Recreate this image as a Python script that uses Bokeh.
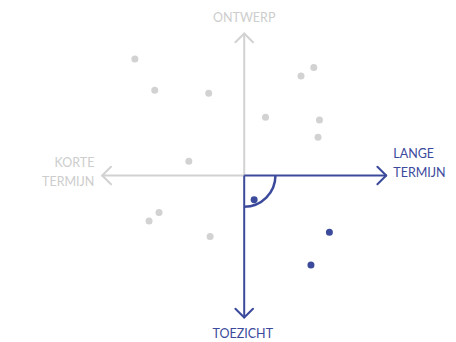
import math
from bokeh.plotting import figure
from bokeh.models import Range1d
from bokeh.embed import file_html
from bokeh.resources import INLINE
from bokeh.core.properties import value

# ---- data (axis units, origin at the centre of the cross) ----
gray_x = [-7.7, -6.3, -2.5, 4.0, 4.9, 1.5, 5.3, 5.2, -3.9, -6.0, -6.7, -2.4]
gray_y = [8.2, 6.0, 5.8, 7.0, 7.6, 4.1, 3.9, 2.7, 1.0, -2.6, -3.2, -4.3]
blue_x = [0.7, 6.0, 4.7]
blue_y = [-1.7, -4.0, -6.3]

axis_extent = 10.0
label_top = "ONTWERP"
label_bottom = "TOEZICHT"
label_left = "KORTE\nTERMIJN"
label_right = "LANGE\nTERMIJN"

# ---- layout ----
W, H = 456, 342
PX = 14.2              # pixels per unit
CX, CY = 243.7, 175.0  # centre, in frame pixels (from left / from top)

GRAY = "#d2d2d2"
GRAY_TXT = "#cdcdcd"
BLUE = "#3c4a9c"
FONT = value("Lato")
FS = "12.5px"

p = figure(width=W, height=H, output_backend="svg", toolbar_location=None,
           x_axis_type=None, y_axis_type=None, min_border=0,
           x_range=Range1d(-CX / PX, (W - CX) / PX),
           y_range=Range1d(-(H - CY) / PX, CY / PX))
p.outline_line_color = None
p.grid.visible = False
p.background_fill_color = "white"
p.border_fill_color = "white"

E = axis_extent
h = 0.62  # arrow head size (units)

# gray: up and left
p.segment(x0=[0, 0], y0=[0, 0], x1=[0, -E], y1=[E, 0], line_color=GRAY, line_width=2)
p.segment(x0=[0, 0, -E, -E], y0=[E, E, 0, 0],
          x1=[-h, h, -E + h, -E + h], y1=[E - h, E - h, h, -h],
          line_color=GRAY, line_width=2, line_cap="round")
# blue: right and down
p.segment(x0=[0, 0], y0=[0, 0], x1=[E, 0], y1=[0, -E], line_color=BLUE, line_width=2)
p.segment(x0=[E, E, 0, 0], y0=[0, 0, -E, -E],
          x1=[E - h, E - h, -h, h], y1=[h, -h, -E + h, -E + h],
          line_color=BLUE, line_width=2, line_cap="round")
p.arc(x=0, y=0, radius=2.2, start_angle=-math.pi / 2, end_angle=0,
      line_color=BLUE, line_width=2.5)

p.scatter(gray_x, gray_y, size=7, fill_color=GRAY, line_color=None)
p.scatter(blue_x, blue_y, size=7, fill_color=BLUE, line_color=None)

p.text(x=[0], y=[11.1], text=[label_top], text_font=FONT, text_font_size=FS,
       text_color=GRAY_TXT, text_align="center", text_baseline="middle")
p.text(x=[-0.1], y=[-11.15], text=[label_bottom], text_font=FONT, text_font_size=FS,
       text_color=BLUE, text_align="center", text_baseline="middle")
p.text(x=[-10.55], y=[0.25], text=[label_left], text_font=FONT, text_font_size=FS,
       text_color=GRAY_TXT, text_align="right", text_baseline="middle",
       text_line_height=1.32)
p.text(x=[10.5], y=[0.88], text=[label_right], text_font=FONT, text_font_size=FS,
       text_color=BLUE, text_align="left", text_baseline="middle",
       text_line_height=1.32)

open("out.html", "w").write(file_html(p, INLINE))
